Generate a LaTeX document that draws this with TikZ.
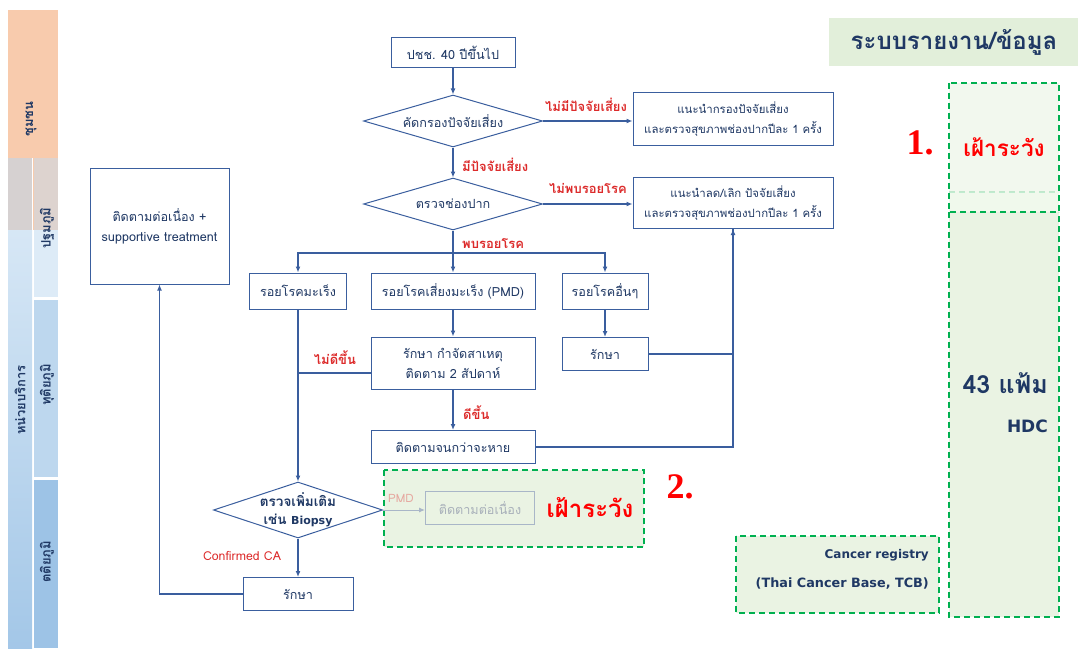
\documentclass[tikz,border=0pt]{standalone}
\usepackage{fontspec}
\setmainfont[Script=Thai]{Loma}
\newfontfamily\serifbig{Liberation Serif}
\newfontfamily\latb{DejaVu Sans}
\usetikzlibrary{shapes.geometric,arrows.meta}
\definecolor{boxc}{HTML}{3A5E9E}
\definecolor{navy}{HTML}{1F3864}
\definecolor{lred}{HTML}{DC2B2B}
\definecolor{bred}{HTML}{FF0000}
\definecolor{gdash}{HTML}{00B050}
\definecolor{gfill}{HTML}{EAF3E3}
\definecolor{hfill}{HTML}{E2EFDA}
\definecolor{orng}{HTML}{F8CBAD}
\definecolor{grayc}{HTML}{D6D1D1}
\definecolor{grayp}{HTML}{DDD3CF}
\definecolor{blA}{HTML}{DDEBF7}
\definecolor{blB}{HTML}{BDD7EE}
\definecolor{blC}{HTML}{9DC3E6}
\definecolor{fadeb}{HTML}{A9B6C8}
\definecolor{fadet}{HTML}{A8B0BA}
\definecolor{fader}{HTML}{E6A8A0}
\tikzset{
  box/.style={draw=boxc, line width=1pt, fill=white, text=navy, font=\fontsize{12.6}{20}\selectfont, align=center, inner sep=0pt},
  dia/.style={diamond, draw=boxc, line width=1pt, fill=white, text=navy, font=\fontsize{12.6}{18}\selectfont, align=center, inner sep=0pt},
  conn/.style={draw=boxc, line width=1.3pt},
  arr/.style={conn, -{Latex[length=6pt,width=5pt]}},
  lab/.style={text=lred, font=\bfseries\fontsize{13}{15}\selectfont, inner sep=0pt},
  side/.style={text=navy, font=\bfseries\fontsize{13}{15}\selectfont, rotate=90, inner sep=0pt},
  gbox/.style={draw=gdash, line width=1.3pt, dash pattern=on 6pt off 4pt},
}
\begin{document}
\begin{tikzpicture}[x=1pt,y=-1pt]
\useasboundingbox (0,0) rectangle (1078,650);
% sidebar
\fill[orng] (8,10) rectangle (58,158);
\fill[grayc] (8,158) rectangle (32,230);
\fill[grayp] (34,158) rectangle (58,230);
\draw[orng, line width=1pt] (33,158) -- (33,230);
\shade[top color=blA!80!blB, bottom color=blC!80!blB] (8,230) rectangle (32,648);
\fill[blA] (34,230) rectangle (58,297);
\fill[blB] (34,300) rectangle (58,477);
\fill[blC] (34,480) rectangle (58,648);
\node[side] (s1) at (31,119) {ชุมชน};
\node[side] (s2) at (47,228) {ปฐมภูมิ};
\node[side] (s3) at (20,400) {หน่วยบริการ};
\node[side] (s4) at (47,385) {ทุติยภูมิ};
\node[side] (s5) at (47,562) {ตติยภูมิ};

% green areas
\fill[gfill] (384,470) rectangle (644,547);
\draw[gbox] (384,470) rectangle (644,547);
\fill[gfill] (949,192) rectangle (1059,617);
\draw[gbox, draw opacity=0.5] (949,192) -- (1059,192);
\draw[gbox] (949,212) -- (949,617) -- (1059,617) -- (1059,212);
\fill[gfill!85!green!20, opacity=0.6] (949,192) rectangle (1059,212);
\fill[gfill, opacity=0.6] (949,83) rectangle (1059,192);
\draw[gbox] (949,83) rectangle (1059,212);
\fill[gfill] (736,536) rectangle (939,613);
\draw[gbox] (736,536) rectangle (939,613);
\node[fill=hfill, minimum width=249pt, minimum height=48pt, inner sep=0pt] (hdr) at (953.5,42) {};
\node[text=navy, font=\bfseries\fontsize{24}{26}\selectfont, inner sep=0pt] (hdrt) at (954,42) {ระบบรายงาน/ข้อมูล};

% flow nodes
\node[box, minimum width=124pt, minimum height=30pt] (n1) at (453,53) {ปชช. 40 ปีขึ้นไป};
\node[dia, aspect=3.44, minimum width=179pt, minimum height=52pt] (d1) at (453,121) {คัดกรองปัจจัยเสี่ยง};
\node[box, minimum width=200pt, minimum height=52pt, font=\fontsize{11.4}{20}\selectfont] (b1) at (733,119) {แนะนำกรองปัจจัยเสี่ยง\\และตรวจสุขภาพช่องปากปีละ 1 ครั้ง};
\node[dia, aspect=3.44, minimum width=179pt, minimum height=52pt] (d2) at (453,204) {ตรวจช่องปาก};
\node[box, minimum width=200pt, minimum height=51pt, font=\fontsize{11.4}{20}\selectfont] (b2) at (733,203) {แนะนำลด/เลิก ปัจจัยเสี่ยง\\และตรวจสุขภาพช่องปากปีละ 1 ครั้ง};
\node[box, minimum width=97pt, minimum height=36pt] (ca) at (298,291) {รอยโรคมะเร็ง};
\node[box, minimum width=164pt, minimum height=36pt] (pmd) at (453,291) {รอยโรคเสี่ยงมะเร็ง (PMD)};
\node[box, minimum width=86pt, minimum height=36pt] (oth) at (605,291) {รอยโรคอื่นๆ};
\node[box, minimum width=164pt, minimum height=52pt] (tr) at (453,363) {รักษา กำจัดสาเหตุ\\ติดตาม 2 สัปดาห์};
\node[box, minimum width=86pt, minimum height=33pt] (rx2) at (605,354) {รักษา};
\node[box, minimum width=164pt, minimum height=33pt] (fol) at (453,447) {ติดตามจนกว่าจะหาย};
\node[dia, aspect=3.0, minimum width=169pt, minimum height=56pt] (d3) at (298,510) {};
\node[text=navy, align=center, inner sep=0pt, font=\bfseries\fontsize{13.5}{18}\selectfont] (d3t) at (d3.center) {ตรวจเพิ่มเติม\\เช่น {\latb\fontsize{11}{18}\selectfont Biopsy}};
\node[box, minimum width=110pt, minimum height=33pt] (rx3) at (298,594) {รักษา};
\node[box, minimum width=139pt, minimum height=116pt] (sup) at (159.5,226) {ติดตามต่อเนื่อง +\\supportive treatment};
\node[box, draw=fadeb, fill=gfill, text=fadet, minimum width=109pt, minimum height=33pt] (fu) at (480,508) {ติดตามต่อเนื่อง};
\coordinate (j1) at (453,253);
\coordinate (j2) at ([yshift=-10pt]tr.west);

% connectors
\draw[arr] (n1) -- (d1);
\draw[arr] (d1.east) -- (b1.west |- d1.east);
\draw[arr] (d1) -- (d2);
\draw[arr] (d2.east) -- (b2.west |- d2.east);
\draw[arr] (d2.south) -- (pmd.north);
\draw[arr] (j1) -| (ca.north);
\draw[arr] (j1) -| (oth.north);
\draw[arr] (pmd) -- (tr);
\draw[arr] (oth) -- (rx2);
\draw[arr] (tr) -- (fol);
\draw[conn] (rx2.east) -| (b2.south);
\draw[arr] (fol.east) -| (b2.south);
\draw[arr] (ca.south) -- (d3.north);
\draw[conn] (j2) -- (ca.south |- j2);
\draw[arr] (d3.south) -- (rx3.north);
\draw[arr] (rx3.west) -| (sup.south);
\draw[draw=fadeb, line width=1pt, -{Latex[length=6pt,width=5pt]}] (d3.east) -- (fu.west |- d3.east);

% labels
\node[lab] (l1) at (586,105) {ไม่มีปัจจัยเสี่ยง};
\node[lab, anchor=west] (l2) at (462,165) {มีปัจจัยเสี่ยง};
\node[lab] (l3) at (588,188) {ไม่พบรอยโรค};
\node[lab, anchor=west] (l4) at (462,244) {พบรอยโรค};
\node[lab] (l5) at (335,358) {ไม่ดีขึ้น};
\node[lab, anchor=west] (l6) at (463,413) {ดีขึ้น};
\node[lab, font=\fontsize{12.3}{14}\selectfont] (l7) at (242,556) {Confirmed CA};
\node[lab, text=fader, font=\fontsize{11.5}{13}\selectfont] (l8) at (401,498) {PMD};
\node[text=bred, font=\bfseries\fontsize{24}{26}\selectfont, inner sep=0pt] (w2) at (590,508) {เฝ้าระวัง};
\node[text=bred, font=\bfseries\fontsize{22.5}{26}\selectfont, inner sep=0pt] (w1) at (1004,147) {เฝ้าระวัง};
\node[text=bred, font=\serifbig\bfseries\fontsize{36}{38}\selectfont, inner sep=0pt] (num2) at (680,487) {2.};
\node[text=bred, font=\serifbig\bfseries\fontsize{36}{38}\selectfont, inner sep=0pt] (num1) at (920,143) {1.};
\node[text=navy, font=\bfseries\fontsize{25}{28}\selectfont, inner sep=0pt, anchor=east] (f43) at (1048,383) {43 แฟ้ม};
\node[text=navy, font=\latb\bfseries\fontsize{17}{20}\selectfont, inner sep=0pt, anchor=east] (hdc) at (1048,426) {HDC};
\node[text=navy, font=\latb\bfseries\fontsize{12}{16}\selectfont, inner sep=0pt, anchor=east] (cr1) at (929,555) {Cancer registry};
\node[text=navy, font=\latb\bfseries\fontsize{12.8}{16}\selectfont, inner sep=0pt, anchor=east] (cr2) at (929,584) {(Thai Cancer Base, TCB)};
\end{tikzpicture}
\end{document}
